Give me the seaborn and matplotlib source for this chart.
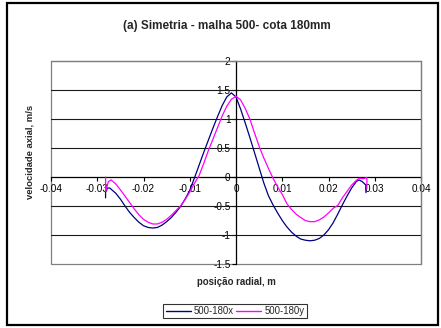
import numpy as np
import pandas as pd
import matplotlib
matplotlib.use("Agg")
import matplotlib.pyplot as plt
from matplotlib.patches import Rectangle
from matplotlib.lines import Line2D
import seaborn as sns

# ---- data ----
x_180x = [-0.0282, -0.0282, -0.0278, -0.0273, -0.026, -0.025, -0.024, -0.023, -0.022, -0.021,
          -0.020, -0.019, -0.018, -0.017, -0.016, -0.015, -0.014, -0.013, -0.012, -0.011,
          -0.010, -0.009, -0.008, -0.007, -0.006, -0.005, -0.004, -0.003, -0.002, -0.001,
          0.000, 0.001, 0.002, 0.003, 0.004, 0.005, 0.006, 0.007, 0.008, 0.009,
          0.010, 0.011, 0.012, 0.013, 0.014, 0.015, 0.016, 0.017, 0.018, 0.019,
          0.020, 0.021, 0.022, 0.023, 0.024, 0.025, 0.026, 0.0266, 0.0273, 0.0281, 0.0281]
y_180x = [-0.36, -0.22, -0.19, -0.19, -0.28, -0.38, -0.50, -0.61, -0.70, -0.78,
          -0.84, -0.87, -0.88, -0.87, -0.83, -0.77, -0.70, -0.61, -0.51, -0.38,
          -0.23, -0.02, 0.20, 0.42, 0.63, 0.84, 1.04, 1.23, 1.38, 1.45,
          1.38, 1.17, 0.93, 0.68, 0.42, 0.16, -0.10, -0.32, -0.48, -0.62,
          -0.75, -0.86, -0.95, -1.02, -1.07, -1.09, -1.10, -1.09, -1.06, -1.00,
          -0.91, -0.79, -0.64, -0.48, -0.33, -0.19, -0.08, -0.05, -0.08, -0.14, -0.27]

x_180y = [-0.0282, -0.0282, -0.0276, -0.0270, -0.026, -0.025, -0.024, -0.023, -0.022, -0.021,
          -0.020, -0.019, -0.018, -0.017, -0.016, -0.015, -0.014, -0.013, -0.012, -0.011,
          -0.010, -0.009, -0.008, -0.007, -0.006, -0.005, -0.004, -0.003, -0.002, -0.001,
          0.000, 0.001, 0.002, 0.003, 0.004, 0.005, 0.006, 0.007, 0.008, 0.009,
          0.010, 0.011, 0.012, 0.013, 0.014, 0.015, 0.016, 0.017, 0.018, 0.019,
          0.020, 0.021, 0.022, 0.023, 0.024, 0.025, 0.026, 0.0267, 0.0275, 0.0283, 0.0283]
y_180y = [0.00, -0.25, -0.08, -0.05, -0.12, -0.22, -0.33, -0.44, -0.55, -0.65,
          -0.73, -0.78, -0.81, -0.81, -0.78, -0.73, -0.66, -0.58, -0.50, -0.39,
          -0.26, -0.11, 0.02, 0.23, 0.45, 0.65, 0.85, 1.05, 1.22, 1.34,
          1.39, 1.33, 1.18, 1.00, 0.76, 0.53, 0.33, 0.15, -0.02, -0.17,
          -0.30, -0.46, -0.56, -0.64, -0.70, -0.75, -0.77, -0.77, -0.74, -0.69,
          -0.62, -0.54, -0.49, -0.36, -0.25, -0.14, -0.06, -0.02, -0.03, -0.01, -0.20]

series_names = ["500-180x", "500-180y"]
series_colors = ["#000080", "#FF00FF"]

x_ticks = [-0.04, -0.03, -0.02, -0.01, 0.0, 0.01, 0.02, 0.03, 0.04]
x_ticklabels = ["-0.04", "-0.03", "-0.02", "-0.01", "0", "0.01", "0.02", "0.03", "0.04"]
y_ticks = [-1.5, -1.0, -0.5, 0.0, 0.5, 1.0, 1.5, 2.0]
y_ticklabels = ["-1.5", "-1", "-0.5", "0", "0.5", "1", "1.5", "2"]
grid_levels = [-1.0, -0.5, 0.5, 1.0, 1.5]

title = "(a) Simetria - malha 500- cota 180mm"
xlabel = "posição radial, m"
ylabel = "velocidade axial, m/s"

# ---- build table ----
df = pd.concat([
    pd.DataFrame({"x": x_180x, "y": y_180x, "serie": series_names[0]}),
    pd.DataFrame({"x": x_180y, "y": y_180y, "serie": series_names[1]}),
], ignore_index=True)

sns.set_style("white")
plt.rcParams["font.family"] = ["Liberation Sans", "DejaVu Sans"]

W, H = 441, 328
fig = plt.figure(figsize=(W / 100, H / 100), dpi=100)
L, R, T, B = 51, 421, 61, 264
ax = fig.add_axes([L / W, 1 - B / H, (R - L) / W, (B - T) / H])

for lv in grid_levels:
    ax.axhline(lv, color="#1a1a1a", lw=0.8, zorder=1)

sns.lineplot(data=df, x="x", y="y", hue="serie", palette=dict(zip(series_names, series_colors)),
             sort=False, estimator=None, lw=0.9, ax=ax, zorder=3, legend=False)

ax.set_xlim(-0.04, 0.04)
ax.set_ylim(-1.5, 2.0)
ax.set_xticks(x_ticks)
ax.set_xticklabels(x_ticklabels)
ax.set_yticks(y_ticks)
ax.set_yticklabels(y_ticklabels)
ax.set_xlabel("")
ax.set_ylabel("")

for s in ["left", "bottom"]:
    ax.spines[s].set_position(("data", 0))
    ax.spines[s].set_color("black")
    ax.spines[s].set_linewidth(0.9)
    ax.spines[s].set_zorder(2)
for s in ["top", "right"]:
    ax.spines[s].set_color("#808080")
    ax.spines[s].set_linewidth(0.9)
ax.add_patch(Rectangle((0, 0), 1, 1, transform=ax.transAxes, fill=False,
                       ec="#808080", lw=0.9, clip_on=False, zorder=0.5))

ax.tick_params(axis="x", direction="out", length=3, width=0.8, pad=2,
               labelsize=7.2, colors="black", bottom=True)
ax.tick_params(axis="y", direction="out", length=3, width=0.8, pad=1,
               labelsize=7.2, colors="black", left=True)

fig.text(227 / W, 1 - 26 / H, title, ha="center", va="center", fontsize=8.5, fontweight="bold")
fig.text(236 / W, 1 - 282 / H, xlabel, ha="center", va="center", fontsize=6.9, fontweight="bold")
fig.text(30 / W, 1 - 152 / H, ylabel, ha="center", va="center", fontsize=6.8,
         fontweight="bold", rotation=90)

handles = [Line2D([], [], color=c, lw=1.0) for c in series_colors]
leg = fig.legend(handles, series_names, loc="center", bbox_to_anchor=(235 / W, 1 - 311 / H),
                 ncol=2, fontsize=6.9, frameon=True, fancybox=False, handlelength=2.6,
                 handletextpad=0.3, columnspacing=0.3, borderpad=0.25, borderaxespad=0)
leg.get_frame().set_edgecolor("black")
leg.get_frame().set_linewidth(0.8)

fig.patches.append(Rectangle((7 / W, 1 - 325 / H), (438 - 7) / W, (325 - 3) / H,
                             transform=fig.transFigure, fill=False, ec="black", lw=1.6))

fig.savefig("out.png", dpi=100)
